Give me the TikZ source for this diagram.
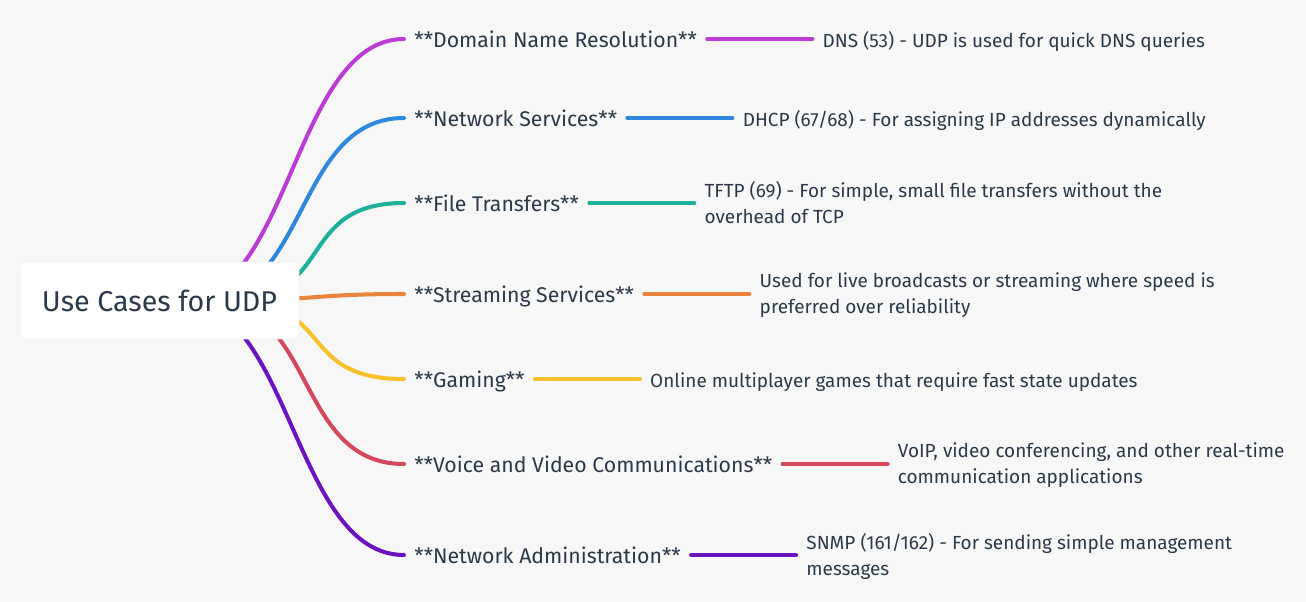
\documentclass[tikz,border=0pt]{standalone}
\usepackage{fontspec}
\setmainfont{Fira Sans}
\usetikzlibrary{positioning}

\definecolor{bg}{HTML}{F7F7F7}
\definecolor{ink}{HTML}{2B3A4A}
\definecolor{cDns}{HTML}{BD3BD5}
\definecolor{cNet}{HTML}{2E88DE}
\definecolor{cFile}{HTML}{1DB09A}
\definecolor{cStream}{HTML}{EA843C}
\definecolor{cGame}{HTML}{F6C12B}
\definecolor{cVoice}{HTML}{D5475C}
\definecolor{cAdmin}{HTML}{6B14C2}

\begin{document}
\begin{tikzpicture}[x=0.02cm, y=-0.02cm, node distance=2.1cm,
  root/.style={fill=white,draw=black!5,rounded corners=0.1cm,minimum width=5.58cm,
    minimum height=1.54cm,text depth=0pt,text=ink,font=\fontsize{16.3}{19}\selectfont},
  topic/.style={anchor=west,inner xsep=0.2cm,inner ysep=0pt,text depth=0pt,text=ink,
    font=\fontsize{12.1}{14}\selectfont},
  leaf/.style={inner xsep=0.2cm,inner ysep=0pt,align=left,text=ink,yshift=-0.06cm,
    font=\fontsize{10.8}{14.7}\selectfont,
    execute at begin node=\strut, execute at end node=\strut},
  link/.style={line width=2.3pt,line cap=round}]

\fill[bg] (0,0) rectangle (1306,602);
\useasboundingbox (0,0) rectangle (1306,602);

% start points behind the root box
\coordinate (sDns) at (180,301);
\coordinate (sNet) at (199,301);
\coordinate (sFile) at (227,301);
\coordinate (sStream) at (230,300);
\coordinate (sGame) at (228,301);
\coordinate (sVoice) at (207,301);
\coordinate (sAdmin) at (181,301);

% topics
\node[topic] (dns) at (404,39) {**Domain Name Resolution**};
\node[topic] (net) at (404,118) {**Network Services**};
\node[topic] (file) at (404,203) {**File Transfers**};
\node[topic] (stream) at (404,294) {**Streaming Services**};
\node[topic] (game) at (404,379) {**Gaming**};
\node[topic] (voice) at (404,464) {**Voice and Video Communications**};
\node[topic] (admin) at (404,555) {**Network Administration**};

% details
\node[leaf,right=of dns] (dnsTxt) {DNS (53) - UDP is used for quick DNS queries};
\node[leaf,right=of net] (netTxt) {DHCP (67/68) - For assigning IP addresses dynamically};
\node[leaf,right=of file] (fileTxt) {TFTP (69) - For simple, small file transfers without the\\overhead of TCP};
\node[leaf,right=of stream] (streamTxt) {Used for live broadcasts or streaming where speed is\\preferred over reliability};
\node[leaf,right=of game] (gameTxt) {Online multiplayer games that require fast state updates};
\node[leaf,right=of voice] (voiceTxt) {VoIP, video conferencing, and other real-time\\communication applications};
\node[leaf,right=of admin] (adminTxt) {SNMP (161/162) - For sending simple management\\messages};

\draw[link,cDns] (sDns) .. controls +(110,0) and +(-110,0) .. (dns.west);
\draw[link,cNet] (sNet) .. controls +(110,0) and +(-110,0) .. (net.west);
\draw[link,cFile] (sFile) .. controls +(110,0) and +(-110,0) .. (file.west);
\draw[link,cStream] (sStream) .. controls +(90,0) and +(-90,0) .. (stream.west);
\draw[link,cGame] (sGame) .. controls +(110,0) and +(-110,0) .. (game.west);
\draw[link,cVoice] (sVoice) .. controls +(110,0) and +(-110,0) .. (voice.west);
\draw[link,cAdmin] (sAdmin) .. controls +(110,0) and +(-110,0) .. (admin.west);

\draw[link,cDns] (dns.east) -- (dns.east -| dnsTxt.west);
\draw[link,cNet] (net.east) -- (net.east -| netTxt.west);
\draw[link,cFile] (file.east) -- (file.east -| fileTxt.west);
\draw[link,cStream] (stream.east) -- (stream.east -| streamTxt.west);
\draw[link,cGame] (game.east) -- (game.east -| gameTxt.west);
\draw[link,cVoice] (voice.east) -- (voice.east -| voiceTxt.west);
\draw[link,cAdmin] (admin.east) -- (admin.east -| adminTxt.west);

\node[root] (udp) at (159.5,300.5) {Use Cases for UDP};
\end{tikzpicture}
\end{document}
